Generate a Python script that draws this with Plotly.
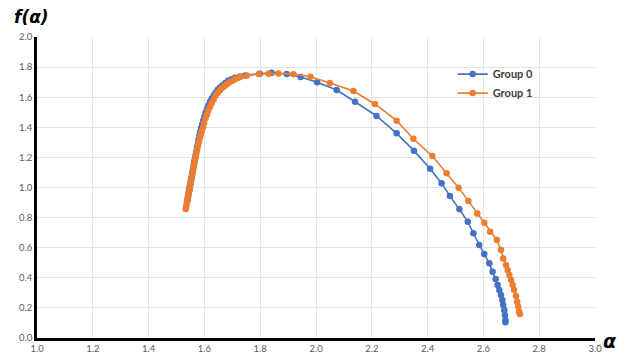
import plotly.graph_objects as go

# Group 0 (blue)
alpha_g0 = [1.540, 1.541, 1.542, 1.544, 1.545, 1.547, 1.548, 1.550, 1.551, 1.553,
            1.554, 1.556, 1.557, 1.559, 1.561, 1.563, 1.565, 1.567, 1.569, 1.572,
            1.574, 1.577, 1.579, 1.582, 1.585, 1.588, 1.592, 1.596, 1.600, 1.604,
            1.609, 1.614, 1.620, 1.626, 1.633, 1.640, 1.648, 1.656, 1.665, 1.675,
            1.685, 1.697, 1.710, 1.727, 1.746, 1.799, 1.841, 1.895, 1.945, 2.004,
            2.074, 2.140, 2.217, 2.289, 2.351, 2.409, 2.450, 2.480, 2.514, 2.544,
            2.564, 2.585, 2.603, 2.621, 2.633, 2.644, 2.651, 2.657, 2.663, 2.668,
            2.671, 2.675, 2.677, 2.679, 2.679]
f_g0 = [0.920, 0.935, 0.950, 0.965, 0.980, 0.995, 1.010, 1.025, 1.040, 1.055,
        1.070, 1.085, 1.100, 1.120, 1.140, 1.160, 1.180, 1.200, 1.220, 1.245,
        1.270, 1.295, 1.320, 1.345, 1.370, 1.395, 1.420, 1.445, 1.470, 1.495,
        1.520, 1.545, 1.570, 1.590, 1.610, 1.630, 1.650, 1.665, 1.680, 1.695,
        1.710, 1.720, 1.730, 1.738, 1.745, 1.756, 1.762, 1.754, 1.734, 1.700,
        1.648, 1.570, 1.475, 1.360, 1.245, 1.125, 1.028, 0.944, 0.855, 0.773,
        0.696, 0.618, 0.558, 0.496, 0.441, 0.392, 0.352, 0.319, 0.286, 0.252,
        0.219, 0.186, 0.153, 0.120, 0.105]

# Group 1 (orange)
alpha_g1 = [1.533, 1.535, 1.536, 1.538, 1.539, 1.541, 1.542, 1.544, 1.546, 1.548,
            1.550, 1.552, 1.554, 1.556, 1.558, 1.560, 1.563, 1.565, 1.568, 1.571,
            1.574, 1.577, 1.580, 1.583, 1.587, 1.591, 1.595, 1.599, 1.604, 1.609,
            1.614, 1.620, 1.626, 1.633, 1.640, 1.648, 1.656, 1.664, 1.672, 1.681,
            1.690, 1.700, 1.710, 1.719, 1.728, 1.752, 1.795, 1.830, 1.865, 1.919,
            1.980, 2.050, 2.134, 2.211, 2.289, 2.349, 2.417, 2.468, 2.511, 2.546,
            2.578, 2.603, 2.624, 2.648, 2.663, 2.671, 2.681, 2.687, 2.693, 2.699,
            2.705, 2.710, 2.717, 2.721, 2.725, 2.728, 2.731]
f_g1 = [0.857, 0.873, 0.890, 0.905, 0.920, 0.935, 0.950, 0.965, 0.980, 1.000,
        1.020, 1.040, 1.060, 1.080, 1.100, 1.125, 1.150, 1.175, 1.200, 1.225,
        1.250, 1.275, 1.300, 1.325, 1.350, 1.375, 1.400, 1.430, 1.460, 1.485,
        1.510, 1.535, 1.560, 1.585, 1.610, 1.630, 1.648, 1.662, 1.675, 1.688,
        1.700, 1.710, 1.720, 1.727, 1.734, 1.745, 1.754, 1.756, 1.758, 1.753,
        1.736, 1.695, 1.641, 1.555, 1.444, 1.324, 1.209, 1.094, 0.999, 0.911,
        0.828, 0.766, 0.706, 0.651, 0.585, 0.529, 0.485, 0.452, 0.419, 0.385,
        0.352, 0.319, 0.279, 0.241, 0.208, 0.175, 0.159]

series_names = ["Group 0", "Group 1"]
colors = ["#4472C4", "#ED7D31"]

fig = go.Figure()
for name, xs, ys, c in zip(series_names, [alpha_g0, alpha_g1], [f_g0, f_g1], colors):
    fig.add_trace(go.Scatter(
        x=xs, y=ys, name=name, mode="lines+markers",
        line=dict(color=c, width=1.6),
        marker=dict(color=c, size=6.5),
    ))

tickfont = dict(family="Lato, Open Sans, sans-serif", size=9.5, color="#595959")
fig.update_layout(
    width=622, height=355,
    margin=dict(l=29, r=35, t=29, b=25),
    paper_bgcolor="white", plot_bgcolor="white",
    showlegend=True,
    legend=dict(x=0.745, y=0.925, xanchor="left", yanchor="top",
                bgcolor="rgba(0,0,0,0)",
                font=dict(family="Lato, Open Sans, sans-serif", size=11, color="#404040",
                          weight="bold"),
                itemwidth=30, tracegroupgap=2),
    xaxis=dict(range=[1.0, 3.0], dtick=0.2, tick0=1.0, tickformat=".1f",
               automargin=False,
               showgrid=True, gridcolor="#e3e3e3", gridwidth=1,
               showline=True, linecolor="black", linewidth=2.5,
               zeroline=False, ticks="", tickfont=tickfont),
    yaxis=dict(range=[0.0, 2.0], dtick=0.2, tick0=0.0, tickformat=".1f",
               automargin=False,
               showgrid=True, gridcolor="#e3e3e3", gridwidth=1,
               showline=True, linecolor="black", linewidth=2.5,
               zeroline=False, ticks="", tickfont=tickfont),
    annotations=[
        dict(text="<b><i>f(α)</i></b>", xref="paper", yref="paper",
             x=-0.01, y=1.065, xanchor="center", yanchor="middle", showarrow=False,
             font=dict(family="DejaVu Sans, sans-serif", size=17, color="black")),
        dict(text="<b><i>α</i></b>", xref="paper", yref="paper",
             x=1.027, y=-0.01, xanchor="center", yanchor="middle", showarrow=False,
             font=dict(family="DejaVu Sans, sans-serif", size=19, color="black")),
    ],
)

fig.write_html("out.html")
